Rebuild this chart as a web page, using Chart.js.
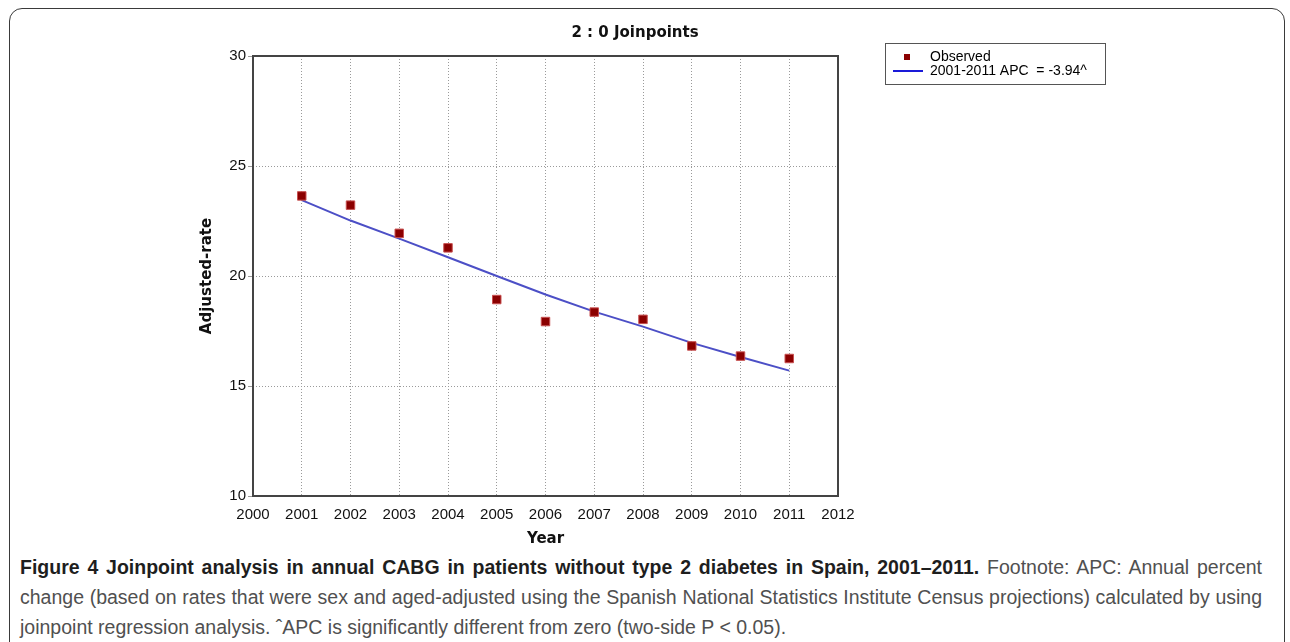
<!DOCTYPE html>
<html>
<head>
<meta charset="utf-8">
<script src="https://cdn.jsdelivr.net/npm/chart.js@4/dist/chart.umd.min.js"></script>
<style>
  html, body { margin: 0; padding: 0; background: #fff; }
  body { width: 1290px; height: 642px; position: relative; overflow: hidden; }
  #frame {
    position: absolute; left: 9px; top: 8px; width: 1276px; height: 720px;
    border: 1.5px solid #3a3a3a; border-radius: 13px; box-sizing: border-box;
  }
  #wrap { position: absolute; left: 0; top: 0; width: 1290px; height: 550px; }
  #caption {
    position: absolute; left: 20px; top: 552px; width: 1242px;
    font-family: "Liberation Sans", Arial, sans-serif;
    font-size: 19.5px; line-height: 30px; color: #505050;
  }
  #caption div { white-space: nowrap; }
  #caption .just { text-align: justify; text-align-last: justify; }
  #caption b { color: #1e1e1e; }
</style>
</head>
<body>
<div id="frame"></div>
<div id="wrap"><canvas id="chart" width="1290" height="550"></canvas></div>
<div id="caption">
  <div class="just"><b>Figure 4 Joinpoint analysis in annual CABG in patients without type 2 diabetes in Spain, 2001–2011.</b> Footnote: APC: Annual percent</div>
  <div class="just">change (based on rates that were sex and aged-adjusted using the Spanish National Statistics Institute Census projections) calculated by using</div>
  <div>joinpoint regression analysis. ˆAPC is significantly different from zero (two-side P &lt; 0.05).</div>
</div>
<script>
// Years and observed age-adjusted CABG rates
const years = [2001, 2002, 2003, 2004, 2005, 2006, 2007, 2008, 2009, 2010, 2011];
const observedRates = [23.64, 23.22, 21.94, 21.28, 18.93, 17.93, 18.36, 18.03, 16.82, 16.36, 16.25];
// Joinpoint model fit (2001-2011 segment)
const fittedRates = [23.45, 22.52, 21.70, 20.85, 20.00, 19.16, 18.38, 17.70, 16.96, 16.32, 15.70];

const chartTitle = '2 : 0 Joinpoints';
const observedLabel = 'Observed';
const fitLabel = '2001-2011 APC  = -3.94^';
const xTitle = 'Year';
const yTitle = 'Adjusted-rate';

const tickFont = { family: 'Liberation Sans, Arial, sans-serif', size: 15 };
const boldFont = { family: 'DejaVu Sans, sans-serif', size: 15, weight: 'bold' };

// Title, plot frame and boxed legend drawn on the canvas
const decorations = {
  id: 'decorations',
  afterDatasetsDraw(chart) {
    const { ctx, chartArea: a } = chart;
    ctx.save();
    ctx.strokeStyle = '#444';
    ctx.lineWidth = 2;
    ctx.strokeRect(a.left, a.top, a.right - a.left, a.bottom - a.top);
    ctx.restore();
  },
  afterDraw(chart) {
    const { ctx } = chart;
    ctx.save();
    ctx.fillStyle = '#111';
    ctx.font = 'bold 15px "DejaVu Sans", sans-serif';
    ctx.textAlign = 'center';
    ctx.textBaseline = 'middle';
    ctx.fillText(chartTitle, 635, 33);

    // legend box
    const bx = 885, by = 43, bw = 220, bh = 41;
    ctx.strokeStyle = '#555';
    ctx.lineWidth = 1;
    ctx.strokeRect(bx + 0.5, by + 0.5, bw, bh);
    const ds = chart.data.datasets;
    ctx.font = '14px "Liberation Sans", Arial, sans-serif';
    ctx.textAlign = 'left';
    // observed marker
    ctx.fillStyle = ds[0].backgroundColor;
    ctx.fillRect(904, 54, 6, 6);
    ctx.fillStyle = '#000';
    ctx.fillText(ds[0].label, 930, 57);
    // fit line
    ctx.strokeStyle = '#1a1ad8';
    ctx.lineWidth = 2;
    ctx.beginPath();
    ctx.moveTo(893, 71);
    ctx.lineTo(923, 71);
    ctx.stroke();
    ctx.fillText(ds[1].label, 930, 71);
    ctx.restore();
  }
};

new Chart(document.getElementById('chart'), {
  type: 'scatter',
  data: {
    datasets: [
      {
        label: observedLabel,
        data: years.map((y, i) => ({ x: y, y: observedRates[i] })),
        pointStyle: 'rect',
        pointRadius: 6,
        backgroundColor: '#8b0000',
        borderColor: '#c85050',
        borderWidth: 1,
        order: 1
      },
      {
        label: fitLabel,
        type: 'line',
        data: years.map((y, i) => ({ x: y, y: fittedRates[i] })),
        showLine: true,
        pointRadius: 0,
        borderColor: '#4c4fc6',
        borderWidth: 2,
        fill: false,
        tension: 0,
        order: 2
      }
    ]
  },
  options: {
    responsive: false,
    animation: false,
    events: [],
    layout: { padding: { left: 198, right: 452, top: 56, bottom: 2 } },
    plugins: {
      legend: { display: false },
      title: { display: false },
      tooltip: { enabled: false }
    },
    scales: {
      x: {
        type: 'linear',
        min: 2000, max: 2012,
        afterFit(scale) { scale.height = 52; },
        ticks: {
          stepSize: 1, padding: 10, color: '#111', font: tickFont,
          maxRotation: 0, autoSkip: false,
          callback: v => String(v)
        },
        grid: { drawTicks: false, color: '#9a9a9a', lineWidth: 1 },
        border: { display: false, dash: [1, 2] },
        title: { display: true, text: xTitle, color: '#111', font: boldFont, padding: { top: 0, bottom: 0 } }
      },
      y: {
        type: 'linear',
        min: 10, max: 30,
        afterFit(scale) { scale.width = 55; },
        ticks: { stepSize: 5, padding: 2, color: '#111', font: tickFont },
        grid: { drawTicks: true, tickLength: 5, color: '#9a9a9a', lineWidth: 1 },
        border: { display: false, dash: [1, 2] },
        title: { display: true, text: yTitle, color: '#111', font: boldFont, padding: { top: 0, bottom: 0 } }
      }
    }
  },
  plugins: [decorations]
});
</script>
</body>
</html>
